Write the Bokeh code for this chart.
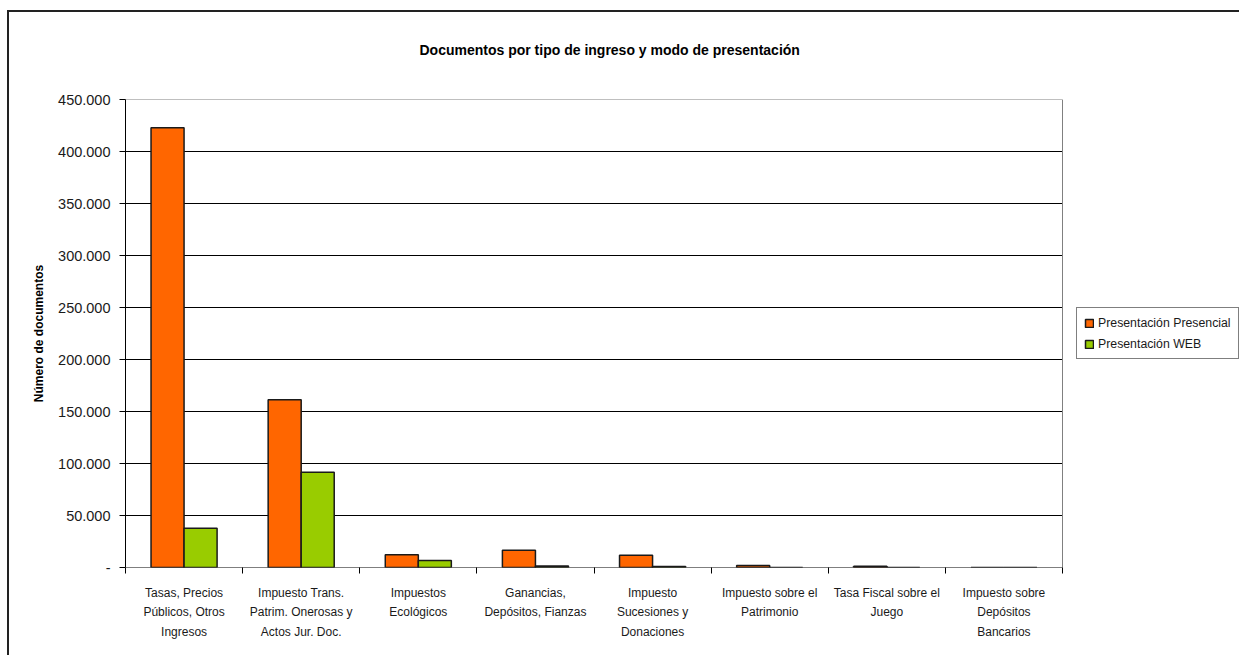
from bokeh.plotting import figure
from bokeh.models import (Range1d, FixedTicker, Legend, LegendItem, ColumnDataSource)
from bokeh.embed import file_html
from bokeh.resources import INLINE

categories = [
    "Tasas, Precios\nPúblicos, Otros\nIngresos",
    "Impuesto Trans.\nPatrim. Onerosas y\nActos Jur. Doc.",
    "Impuestos\nEcológicos",
    "Ganancias,\nDepósitos, Fianzas",
    "Impuesto\nSucesiones y\nDonaciones",
    "Impuesto sobre el\nPatrimonio",
    "Tasa Fiscal sobre el\nJuego",
    "Impuesto sobre\nDepósitos\nBancarios",
]
presencial = [422800, 161300, 12200, 16600, 11800, 2000, 1200, 0]
web = [37800, 91600, 6700, 1500, 1000, 0, 0, 0]
series_names = ["Presentación Presencial", "Presentación WEB"]
y_ticks = [0, 50000, 100000, 150000, 200000, 250000, 300000, 350000, 400000, 450000]
y_tick_labels = ["-", "50.000", "100.000", "150.000", "200.000", "250.000",
                 "300.000", "350.000", "400.000", "450.000"]
title_text = "Documentos por tipo de ingreso y modo de presentación"
y_label = "Número de documentos"

FONT = "Liberation Sans"
n = len(categories)
centers = [i + 0.5 for i in range(n)]
bw = 0.282
y_max = y_ticks[-1]

# plot area spans page x 125..1062 for the categories; the frame extends to the
# right edge of the window so that the legend can live inside it
x_end = n * (1241 - 125) / (1062 - 125)

src = ColumnDataSource(dict(
    xo=[c - bw / 2 for c in centers],
    xw=[c + bw / 2 for c in centers],
    pres=presencial,
    web=web,
))

p = figure(width=1232, height=645, output_backend="svg", toolbar_location=None,
           x_range=Range1d(0, x_end), y_range=Range1d(0, y_max),
           min_border_left=116, min_border_right=0,
           min_border_top=87, min_border_bottom=90,
           background_fill_color="white", border_fill_color="white")
p.styles = {"margin-left": "7px", "margin-top": "10px",
            "border-left": "2px solid #222222", "border-top": "2px solid #222222"}
p.outline_line_color = None
p.xgrid.grid_line_color = None
p.ygrid.grid_line_color = None

# horizontal gridlines (black), plot-area border (grey), baseline (black)
grid_y = y_ticks[1:-1]
p.segment(x0=[0] * len(grid_y), x1=[n] * len(grid_y), y0=grid_y, y1=grid_y,
          line_color="black", line_width=1)
p.segment(x0=[0, n], x1=[n, n], y0=[y_max, 0], y1=[y_max, y_max],
          line_color="#808080", line_width=1)

r1 = p.vbar(x="xo", top="pres", width=bw, source=src, fill_color="#FF6600",
            line_color="#1a1a1a", line_width=1.5)
r2 = p.vbar(x="xw", top="web", width=bw, source=src, fill_color="#99CC00",
            line_color="#1a1a1a", line_width=1.5)

p.segment(x0=[0], x1=[n], y0=[0], y1=[0], line_color="black", line_width=1)

# y axis
p.yaxis.ticker = FixedTicker(ticks=y_ticks)
p.yaxis.major_label_overrides = {t: l for t, l in zip(y_ticks, y_tick_labels)}
p.yaxis.major_tick_out = 6
p.yaxis.major_tick_in = 0
p.yaxis.minor_tick_line_color = None
p.yaxis.axis_line_color = "black"
p.yaxis.major_tick_line_color = "black"
p.yaxis.major_label_text_font = FONT
p.yaxis.major_label_text_font_size = "14.5px"
p.yaxis.major_label_text_color = "#1a1a1a"
p.yaxis.major_label_standoff = 9
p.yaxis.axis_label = y_label
p.yaxis.axis_label_text_font = FONT
p.yaxis.axis_label_text_font_size = "12px"
p.yaxis.axis_label_text_font_style = "bold"
p.yaxis.axis_label_text_color = "black"
p.yaxis.axis_label_standoff = 9

# x axis
p.xaxis.ticker = FixedTicker(ticks=centers, minor_ticks=list(range(n + 1)))
p.xaxis.major_label_overrides = {c: l for c, l in zip(centers, categories)}
p.xaxis.major_tick_out = 0
p.xaxis.major_tick_in = 0
p.xaxis.minor_tick_out = 6
p.xaxis.minor_tick_in = 0
p.xaxis.minor_tick_line_color = "black"
p.xaxis.axis_line_color = None
p.xaxis.major_label_text_font = FONT
p.xaxis.major_label_text_font_size = "12px"
p.xaxis.major_label_text_color = "#1a1a1a"
p.xaxis.major_label_text_line_height = 1.4
p.xaxis.major_label_standoff = 12

# title: a blank second line lifts the visible line higher inside the top border
p.title.text = title_text + "\n "
p.title.align = "left"
p.title.offset = 294
p.title.standoff = 51
p.title.text_font = FONT
p.title.text_font_size = "14px"
p.title.text_font_style = "bold"
p.title.text_color = "black"

legend = Legend(items=[LegendItem(label=series_names[0], renderers=[r1]),
                       LegendItem(label=series_names[1], renderers=[r2])],
                location=(951, 208), border_line_color="black", border_line_width=1,
                padding=7, spacing=6, glyph_width=10, glyph_height=10,
                label_standoff=4, label_height=15, margin=0,
                label_text_font=FONT, label_text_font_size="12.3px",
                label_text_color="#1a1a1a", background_fill_color="white",
                background_fill_alpha=1.0)
p.add_layout(legend)

open("out.html", "w").write(file_html(p, INLINE))
